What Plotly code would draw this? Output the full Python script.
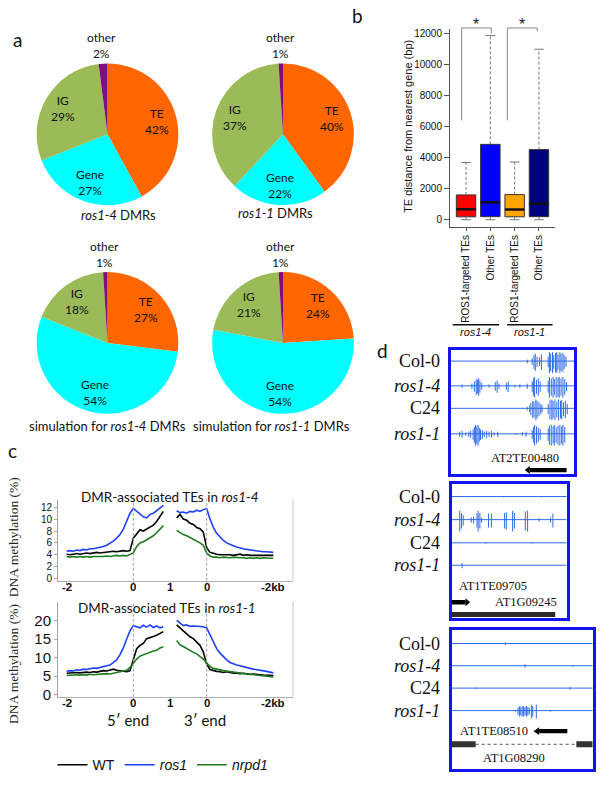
import math
import plotly.graph_objects as go

W, H = 602, 785


def fx(p):
    return p / W


def fy(p):
    return 1 - p / H


# ============================ DATA ============================
# ---- panel a : genomic distribution of DMRs (percent)
pie_labels = ["TE", "Gene", "IG", "other"]
pie_ros1_4 = [42, 27, 29, 2]
pie_ros1_1 = [40, 22, 37, 1]
pie_sim_ros1_4 = [27, 54, 18, 1]
pie_sim_ros1_1 = [24, 54, 21, 1]
pie_titles = ["<i>ros1-4</i> DMRs", "<i>ros1-1</i> DMRs",
              "simulation for <i>ros1-4</i> DMRs", "simulation for <i>ros1-1</i> DMRs"]

# ---- panel b : TE distance from nearest gene (bp)
box_labels = ["ROS1-targeted TEs", "Other TEs", "ROS1-targeted TEs", "Other TEs"]
box_q1 = [190, 200, 190, 200]
box_median = [680, 1130, 660, 1050]
box_q3 = [1600, 4860, 1620, 4520]
box_lower = [0, 0, 0, 0]
box_upper = [3690, 11870, 3720, 10990]
box_genotypes = ["ros1-4", "ros1-1"]
box_signif = ["*", "*"]
box_yticks = [0, 2000, 4000, 6000, 8000, 10000, 12000]

# ---- panel c : DNA methylation (%) around DMR-associated TEs
meth_pos_5p = [i / 10 for i in range(30)]          # -2kb .. 0 .. into TE body
meth_pos_3p = [3.3 + i / 10 for i in range(30)]    # TE body .. 0 .. -2kb
meth_tick_pos = [0, 2, 3.1, 4.2, 6.2]
meth_tick_text = ["-2", "0", "1", "0", "-2kb"]
meth_series = ["WT", "<i>ros1</i>", "<i>nrpd1</i>"]

r14_wt_5p = [4.1, 4.0, 4.1, 4.2, 4.1, 4.2, 4.3, 4.2, 4.3, 4.4, 4.3,
             4.4, 4.5, 4.5, 4.6, 4.5, 4.6, 4.7, 4.6, 4.7,
             6.8, 7.6, 8.2, 8.0, 8.3, 8.6, 9.0, 9.6, 10.4, 11.3]
r14_wt_3p = [10.2, 10.8, 10.0, 9.8, 9.3, 9.1, 8.6, 8.4, 7.8, 5.2,
             4.4, 4.2, 4.1, 4.0, 4.0, 4.1, 4.0, 3.9, 4.0, 4.1,
             3.9, 4.0, 3.9, 3.9, 3.8, 3.9, 3.8, 3.9, 3.8, 3.9]
r14_ros1_5p = [4.6, 4.7, 4.6, 4.8, 4.7, 4.9, 4.8, 5.0, 5.0, 5.1, 5.2,
               5.4, 5.6, 5.9, 6.3, 6.8, 7.4, 8.3, 9.6, 11.0,
               11.8, 11.3, 10.9, 10.4, 10.2, 10.8, 11.0, 11.4, 11.9, 12.3]
r14_ros1_3p = [11.4, 11.1, 11.2, 11.0, 11.3, 11.2, 11.5, 11.3, 11.6, 11.8,
               10.0, 8.6, 7.6, 6.9, 6.4, 6.0, 5.7, 5.5, 5.3, 5.1,
               5.0, 4.9, 4.8, 4.7, 4.7, 4.6, 4.5, 4.5, 4.4, 4.4]
r14_nrpd1_5p = [3.7, 3.6, 3.7, 3.6, 3.7, 3.6, 3.7, 3.6, 3.7, 3.7, 3.6,
                3.7, 3.8, 3.7, 3.8, 3.9, 3.8, 3.9, 3.8, 4.0,
                4.3, 5.4, 6.0, 6.2, 6.5, 6.8, 7.2, 7.7, 8.3, 8.9]
r14_nrpd1_3p = [8.1, 7.7, 7.4, 7.2, 6.9, 6.7, 6.4, 6.0, 5.6, 4.3,
                3.8, 3.6, 3.6, 3.5, 3.6, 3.5, 3.5, 3.6, 3.5, 3.5,
                3.5, 3.4, 3.5, 3.4, 3.5, 3.4, 3.5, 3.4, 3.4, 3.4]

r11_wt_5p = [5.8, 5.9, 5.8, 6.0, 5.9, 6.0, 6.1, 6.0, 6.2, 6.1, 6.3,
             6.5, 6.4, 6.7, 6.9, 6.6, 6.4, 6.3, 6.2, 6.5,
             9.5, 12.4, 13.3, 13.8, 15.1, 15.5, 15.7, 16.0, 16.4, 17.0]
r11_wt_3p = [18.8, 17.9, 17.2, 16.4, 15.6, 15.1, 14.2, 13.3, 11.5, 8.2,
             6.8, 6.5, 6.3, 6.2, 6.0, 6.2, 5.9, 5.8, 5.9, 5.7,
             5.8, 5.6, 5.5, 5.6, 5.4, 5.4, 5.3, 5.3, 5.2, 5.2]
r11_ros1_5p = [6.3, 6.5, 6.4, 6.7, 6.6, 6.9, 6.8, 7.0, 7.2, 7.1, 7.4,
               7.6, 7.8, 8.0, 8.6, 9.4, 10.8, 12.6, 15.0, 17.2,
               18.6, 18.3, 18.0, 18.7, 18.2, 18.8, 18.1, 18.5, 18.0, 18.3]
r11_ros1_3p = [20.0, 19.2, 18.6, 18.8, 18.4, 18.5, 18.4, 18.5, 18.3, 18.0,
               16.0, 14.0, 12.4, 11.2, 10.2, 9.4, 8.7, 8.3, 8.0, 7.8,
               7.5, 7.3, 7.1, 6.9, 6.8, 6.6, 6.4, 6.3, 6.1, 5.9]
r11_nrpd1_5p = [5.2, 5.3, 5.2, 5.4, 5.3, 5.4, 5.3, 5.5, 5.4, 5.5, 5.6,
                5.6, 5.7, 5.6, 5.8, 5.9, 6.0, 6.2, 6.6, 7.3,
                8.6, 9.6, 10.4, 10.8, 11.0, 11.5, 11.8, 12.0, 12.6, 12.9]
r11_nrpd1_3p = [14.6, 13.4, 13.0, 12.4, 11.9, 11.4, 11.0, 10.4, 9.6, 8.6,
                7.6, 7.1, 6.8, 6.7, 6.5, 6.4, 6.3, 6.1, 6.0, 5.9,
                5.8, 5.6, 5.5, 5.4, 5.3, 5.2, 5.1, 5.0, 4.9, 4.8]

# ---- panel d : genome browser tracks (spike position % of window, height)
d_track_names = ["Col-0", "<i>ros1-4</i>", "C24", "<i>ros1-1</i>"]
d1_pos = [
    [62, 66, 67.5, 68.5, 70, 72, 73.5, 79, 80, 81, 82.5, 83.5, 85, 86, 87, 88.5, 89.5, 91, 92, 93.5],
    [9, 17, 19, 20.5, 21.5, 22.5, 23.5, 25, 31, 36, 37.5, 39, 45, 46.5, 52, 56, 62, 66, 67, 68, 69.5,
     71, 72.5, 79, 80, 81.5, 83, 84, 85.5, 87, 88, 89.5, 91, 92.5, 94],
    [62, 64, 65, 66.5, 67.5, 69, 70, 71.5, 73, 74, 79, 80.5, 82, 83, 84.5, 86, 87.5, 89, 90, 91.5, 93, 94.5],
    [7, 9, 12, 14.5, 16, 18, 19, 20, 21, 22, 23, 24, 25.5, 27, 29, 31, 33, 35, 38, 53, 58, 61,
     66, 67, 68, 69.5, 71, 72.5, 79, 80, 81.5, 83, 84, 85.5, 87, 88.5, 90, 91, 92.5],
]
d1_amp = [
    [2, 4, 8, 10, 6, 5, 9, 6, 12, 10, 12, 8, 11, 12, 9, 12, 10, 11, 8, 6],
    [2, 3, 6, 9, 8, 10, 7, 4, 2, 5, 7, 3, 4, 6, 1.5, 2, 3, 6, 10, 12, 8,
     10, 6, 7, 12, 10, 12, 9, 12, 11, 12, 10, 12, 9, 5],
    [2, 4, 7, 10, 9, 12, 10, 8, 6, 4, 6, 11, 12, 10, 12, 9, 12, 10, 11, 8, 10, 6],
    [3, 4, 2, 3, 4, 6, 9, 12, 10, 12, 8, 6, 5, 3, 4, 3, 4, 2, 3, 1, 2, 3,
     5, 9, 12, 10, 8, 6, 7, 11, 12, 10, 12, 9, 11, 12, 10, 12, 9],
]
d2_pos = [
    [15, 45, 78],
    [7, 8.5, 10, 17, 19, 22, 23, 24.5, 26, 32, 34.5, 46, 47.5, 53, 54.5, 64, 66, 76, 86, 88],
    [30, 70],
    [9],
]
d2_amp = [
    [0.8, 0.8, 0.8],
    [12, 9, 6, 3, 4, 8, 12, 9, 3, 8, 8, 9, 10, 12, 9, 11, 12, 2, 3, 8],
    [0.8, 0.8],
    [3],
]
d3_pos = [
    [38],
    [52, 86],
    [17, 84],
    [45, 47, 48, 49, 50, 51, 52, 53, 54, 55, 56.5, 57.5, 60, 70],
]
d3_amp = [
    [1.5],
    [2, 1],
    [1, 1.5],
    [1, 4, 6, 5, 6, 6, 5, 6, 5, 4, 8, 6, 8, 1],
]
d_te_names = ["AT2TE00480", "AT1TE09705", "AT1TE08510"]
d_te_span = [(60, 94), (0, 16), (58, 82)]
d_te_strand = [-1, 1, -1]
d_gene_names = ["AT1G09245", "AT1G08290"]

# ============================ STYLE / LAYOUT GEOMETRY ============================
SANS = "Liberation Sans"
CAL = "Lato"
SERIF = "Liberation Serif"
pie_colors = ["#FF6600", "#00FFFF", "#9BBB59", "#7F0F7F"]
box_colors = ["#FF0000", "#0000FF", "#FFA500", "#000080"]
meth_colors = ["#000000", "#1F3FFF", "#1E7B1E"]
track_blue = "#2F6BEA"
frame_blue = "#1414F0"

fig = go.Figure()
ann = []
shapes = []

# ---------------------------- panel a ----------------------------
pie_sets = [pie_ros1_4, pie_ros1_1, pie_sim_ros1_4, pie_sim_ros1_1]
pie_centers = [(107.5, 134.5), (283, 134.5), (107.5, 345), (283, 345)]
pie_r = 71.5
pie_title_pos = [(118.5, 216), (275.5, 214), (107, 429), (271.5, 429)]
for vals, (cx, cy), title, (tx, ty) in zip(pie_sets, pie_centers, pie_titles, pie_title_pos):
    fig.add_trace(go.Pie(
        labels=pie_labels, values=vals, sort=False, direction="clockwise", rotation=0,
        marker=dict(colors=pie_colors, line=dict(width=0)), textinfo="none",
        hoverinfo="label+percent", showlegend=False,
        domain=dict(x=[fx(cx - pie_r), fx(cx + pie_r)], y=[fy(cy + pie_r), fy(cy - pie_r)])))
    total = sum(vals)
    cum = 0
    for lab, v in zip(pie_labels, vals):
        frac = (cum + v / 2) / total
        cum += v
        th = 2 * math.pi * frac
        k = 0.72 if v >= 5 else 1.25
        lx = cx + k * pie_r * math.sin(th)
        ly = cy - k * pie_r * math.cos(th)
        ann.append(dict(text=f"{lab}<br>{v}%", x=fx(lx), y=fy(ly), xref="paper", yref="paper",
                        showarrow=False, xanchor="center", yanchor="middle",
                        font=dict(family=CAL, size=12, color="#111")))
    ann.append(dict(text=title, x=fx(tx), y=fy(ty), xref="paper", yref="paper", showarrow=False,
                    xanchor="center", yanchor="middle", font=dict(family=CAL, size=13, color="#111")))

# ---------------------------- panel b ----------------------------
bx_rng = [0.34, 4.66]
by_rng = [-472, 12272]
b_left, b_right, b_bot, b_top = 450, 555, 228.1, 28.6


def bpx(x):
    return fx(b_left + (x - bx_rng[0]) / (bx_rng[1] - bx_rng[0]) * (b_right - b_left))


def bpy(v):
    return fy(b_bot - (v - by_rng[0]) / (by_rng[1] - by_rng[0]) * (b_bot - b_top))


for i in range(4):
    fig.add_trace(go.Box(
        x=[i + 1], q1=[box_q1[i]], median=[box_median[i]], q3=[box_q3[i]],
        lowerfence=[box_q1[i]], upperfence=[box_q3[i]], fillcolor=box_colors[i],
        line=dict(color="#333333", width=1), width=0.8, whiskerwidth=0,
        boxpoints=False, xaxis="x", yaxis="y", showlegend=False, hoverinfo="skip"))

wx, wy, cxs, cys, mx, my = [], [], [], [], [], []
for i in range(4):
    p = i + 1
    wx += [p, p, None, p, p, None]
    wy += [box_q3[i], box_upper[i], None, box_lower[i], box_q1[i], None]
    cxs += [p - 0.2, p + 0.2, None, p - 0.2, p + 0.2, None]
    cys += [box_upper[i], box_upper[i], None, box_lower[i], box_lower[i], None]
    mx += [p - 0.4, p + 0.4, None]
    my += [box_median[i], box_median[i], None]
fig.add_trace(go.Scatter(x=wx, y=wy, mode="lines", line=dict(color="#777777", width=1, dash="3px,2px"),
                         xaxis="x", yaxis="y", showlegend=False, hoverinfo="skip"))
fig.add_trace(go.Scatter(x=cxs, y=cys, mode="lines", line=dict(color="#777777", width=1),
                         xaxis="x", yaxis="y", showlegend=False, hoverinfo="skip"))
fig.add_trace(go.Scatter(x=mx, y=my, mode="lines", line=dict(color="#111111", width=2.5),
                         xaxis="x", yaxis="y", showlegend=False, hoverinfo="skip"))

# significance brackets
for (xl, xr, yr_end), star in zip([(0.82, 2.04, 11990), (2.70, 3.93, 12150)], box_signif):
    top = 12360
    for (x0, y0, x1, y1) in [(xl, 6400, xl, top), (xl, top, xr, top), (xr, top, xr, yr_end)]:
        shapes.append(dict(type="line", xref="paper", yref="paper", x0=bpx(x0), y0=bpy(y0),
                           x1=bpx(x1), y1=bpy(y1), line=dict(color="#888888", width=1)))
    ann.append(dict(text=star, x=bpx((xl + xr) / 2), y=fy(24), xref="paper", yref="paper",
                    showarrow=False, xanchor="center", yanchor="middle",
                    font=dict(family=SANS, size=16, color="#222")))

# genotype underlines & labels
for (x0, x1), g in zip([(0.45, 2.36), (2.69, 4.56)], box_genotypes):
    shapes.append(dict(type="line", xref="paper", yref="paper", x0=bpx(x0), x1=bpx(x1),
                       y0=fy(326.7), y1=fy(326.7), line=dict(color="#111", width=1.6)))
    ann.append(dict(text=f"<i>{g}</i>", x=bpx((x0 + x1) / 2), y=fy(334), xref="paper", yref="paper",
                    showarrow=False, xanchor="center", yanchor="middle",
                    font=dict(family=SANS, size=11, color="#111")))
ann.append(dict(text="TE distance from nearest gene (bp)", x=fx(408), y=fy(127), xref="paper",
                yref="paper", showarrow=False, textangle=-90, xanchor="center", yanchor="middle",
                font=dict(family=SANS, size=11, color="#111")))

# ---------------------------- panel c ----------------------------
c_sets = [
    ("x2", "y2", [(r14_wt_5p, r14_wt_3p), (r14_ros1_5p, r14_ros1_3p), (r14_nrpd1_5p, r14_nrpd1_3p)], False, 591),
    ("x3", "y3", [(r11_wt_5p, r11_wt_3p), (r11_ros1_5p, r11_ros1_3p), (r11_nrpd1_5p, r11_nrpd1_3p)], True, 708),
]
x_join = meth_pos_5p + [None] + meth_pos_3p
for xa, ya, series, leg, tick_y in c_sets:
    for (s5, s3), name, col in zip(series, meth_series, meth_colors):
        fig.add_trace(go.Scatter(x=x_join, y=list(s5) + [None] + list(s3), mode="lines", name=name,
                                 line=dict(color=col, width=1.6), xaxis=xa, yaxis=ya,
                                 showlegend=leg, hoverinfo="skip"))
    for xv in (meth_tick_pos[1], meth_tick_pos[3]):
        shapes.append(dict(type="line", xref=xa, yref=ya + " domain", x0=xv, x1=xv, y0=0, y1=1,
                           line=dict(color="#A0A0A0", width=1, dash="3px,2px")))
    shapes.append(dict(type="line", xref=xa + " domain", yref=ya + " domain", x0=1, x1=1, y0=0, y1=1,
                       line=dict(color="#C8C8C8", width=1)))
    for tv, tt in zip(meth_tick_pos, meth_tick_text):
        ann.append(dict(text=f"<b>{tt}</b>", x=tv, xref=xa, y=fy(tick_y), yref="paper",
                        showarrow=False, xanchor="center", yanchor="middle", height=12,
                        font=dict(family=SANS, size=11.5, color="#111")))

ann.append(dict(text="DMR-associated TEs in <i>ros1-4</i>", x=fx(170), y=fy(500), xref="paper",
                yref="paper", showarrow=False, xanchor="center", yanchor="middle",
                font=dict(family=CAL, size=13.5, color="#111")))
ann.append(dict(text="DMR-associated TEs in <i>ros1-1</i>", x=fx(167), y=fy(612), xref="paper",
                yref="paper", showarrow=False, xanchor="center", yanchor="middle",
                font=dict(family=CAL, size=13.5, color="#111")))
for ty in (541, 669):
    ann.append(dict(text="DNA methylation (%)", x=fx(13), y=fy(ty), xref="paper", yref="paper",
                    showarrow=False, textangle=-90, xanchor="center", yanchor="middle",
                    font=dict(family=SERIF, size=13.5, color="#222")))
for txt, xx in (("5′ end", 128), ("3′ end", 205)):
    ann.append(dict(text=txt, x=fx(xx), y=fy(725), xref="paper", yref="paper", showarrow=False,
                    xanchor="center", yanchor="middle", height=16,
                    font=dict(family=CAL, size=15, color="#111")))

# ---------------------------- panel d ----------------------------
d_boxes = [
    dict(x0=451, x1=574, y0=351.7, y1=477.7, rows=[363.3, 388.3, 411, 436.7]),
    dict(x0=451.7, x1=566.7, y0=487.3, y1=623, rows=[500, 523.3, 546.7, 569.3]),
    dict(x0=451.7, x1=592.7, y0=635, y1=775, rows=[648.3, 670.7, 693.3, 716]),
]
d_pos_all = [d1_pos, d2_pos, d3_pos]
d_amp_all = [d1_amp, d2_amp, d3_amp]
for bi, (bx, pos_l, amp_l) in enumerate(zip(d_boxes, d_pos_all, d_amp_all)):
    xa, ya = f"x{bi + 4}", f"y{bi + 4}"
    sx, sy = [], []
    for row, pos, amp in zip(bx["rows"], pos_l, amp_l):
        sx += [0, 100, None]
        sy += [row, row, None]
        for p, a in zip(pos, amp):
            sx += [p, p, None]
            sy += [row - 0.75 * a, row + a, None]
    fig.add_trace(go.Scatter(x=sx, y=sy, mode="lines", line=dict(color=track_blue, width=1),
                             xaxis=xa, yaxis=ya, showlegend=False, hoverinfo="skip"))
    for row, name in zip(bx["rows"], d_track_names):
        ann.append(dict(text=name, x=fx(442), y=fy(row), xref="paper", yref="paper", showarrow=False,
                        xanchor="right", yanchor="middle",
                        font=dict(family=SERIF, size=18, color="#111")))


def arrow(xa, ya, x0, x1, y, strand, color="#000000"):
    head = 4
    if strand < 0:
        shapes.append(dict(type="rect", xref=xa, yref=ya, x0=x0 + head, x1=x1, y0=y - 2.2, y1=y + 2.2,
                           fillcolor=color, line=dict(width=0)))
        shapes.append(dict(type="path", xref=xa, yref=ya, fillcolor=color, line=dict(width=0),
                           path=f"M {x0},{y} L {x0 + head},{y - 4} L {x0 + head},{y + 4} Z"))
    else:
        shapes.append(dict(type="rect", xref=xa, yref=ya, x0=x0, x1=x1 - head, y0=y - 2.2, y1=y + 2.2,
                           fillcolor=color, line=dict(width=0)))
        shapes.append(dict(type="path", xref=xa, yref=ya, fillcolor=color, line=dict(width=0),
                           path=f"M {x1},{y} L {x1 - head},{y - 4} L {x1 - head},{y + 4} Z"))


te_y = [473.3, 606.7, 736.7]
te_label = [(60, 460.7), (36, 590), (30, 736.7)]
for bi in range(3):
    xa, ya = f"x{bi + 4}", f"y{bi + 4}"
    x0, x1 = d_te_span[bi]
    arrow(xa, ya, x0, x1, te_y[bi], d_te_strand[bi])
    ann.append(dict(text=d_te_names[bi], x=te_label[bi][0], y=te_label[bi][1], xref=xa, yref=ya,
                    showarrow=False, xanchor="center", yanchor="middle",
                    font=dict(family=SERIF, size=12.5, color="#111")))
# gene models
shapes.append(dict(type="rect", xref="x5", yref="y5", x0=0, x1=90, y0=616.5, y1=621.5,
                   fillcolor="#2a2a2a", line=dict(width=0)))
ann.append(dict(text=d_gene_names[0], x=65, y=606, xref="x5", yref="y5", showarrow=False,
                font=dict(family=SERIF, size=12.5, color="#111")))
shapes.append(dict(type="line", xref="x6", yref="y6", x0=17, x1=88.4, y0=750, y1=750,
                   line=dict(color="#555", width=1, dash="dot")))
for x0, x1 in [(0, 17), (88.4, 100)]:
    shapes.append(dict(type="rect", xref="x6", yref="y6", x0=x0, x1=x1, y0=747, y1=753,
                       fillcolor="#333333", line=dict(width=0)))
ann.append(dict(text=d_gene_names[1], x=44, y=764, xref="x6", yref="y6", showarrow=False,
                font=dict(family=SERIF, size=12.5, color="#111")))

# panel letters
for t, (lx, ly) in zip("abcd", [(17, 39), (357, 15), (12, 454), (382, 353)]):
    ann.append(dict(text=t, x=fx(lx), y=fy(ly), xref="paper", yref="paper", showarrow=False,
                    xanchor="center", yanchor="middle", font=dict(family=CAL, size=19, color="#111")))

# ============================ AXES ============================
c_axis_common = dict(showgrid=False, zeroline=False)
layout = dict(
    width=W, height=H, margin=dict(l=0, r=0, t=0, b=0),
    paper_bgcolor="white", plot_bgcolor="white",
    font=dict(family=SANS, color="#111"),
    annotations=ann, shapes=shapes,
    legend=dict(orientation="h", x=fx(163), xanchor="center", y=fy(771), yanchor="middle",
                font=dict(family=SANS, size=14, color="#111"), bgcolor="rgba(0,0,0,0)",
                itemwidth=30, tracegroupgap=0),
    # panel b
    xaxis=dict(domain=[fx(b_left), fx(b_right)], range=bx_rng, anchor="y",
               tickmode="array", tickvals=[1, 2, 3, 4], ticktext=box_labels, tickangle=-90,
               tickfont=dict(family=SANS, size=10, color="#111"), ticks="outside", ticklen=3,
               tickcolor="#555", showline=True, linecolor="#555", linewidth=1,
               showgrid=False, zeroline=False),
    yaxis=dict(domain=[fy(b_bot), fy(b_top)], range=by_rng, anchor="x",
               tickmode="array", tickvals=box_yticks, ticktext=[str(v) for v in box_yticks],
               tickfont=dict(family=SANS, size=10, color="#111"),
               ticks="outside", ticklen=5, tickcolor="#555", showline=True, linecolor="#555",
               linewidth=1, showgrid=False, zeroline=False),
    # panel c
    xaxis2=dict(domain=[fx(58), fx(293)], range=[-0.26, 6.79], anchor="y2",
                tickmode="array", tickvals=meth_tick_pos, showticklabels=False,
                ticks="outside", ticklen=2, tickcolor="#aaa", showline=True, linecolor="#B0B0B0",
                **c_axis_common),
    yaxis2=dict(domain=[fy(585), fy(503)], range=[-0.38, 13.3], anchor="x2",
                tickmode="array", tickvals=[0, 2, 4, 6, 8, 10, 12],
                tickfont=dict(family=SANS, size=10, color="#111"), ticks="outside", ticklen=3,
                tickcolor="#aaa", showline=True, linecolor="#A0A0A0", **c_axis_common),
    xaxis3=dict(domain=[fx(58), fx(293)], range=[-0.26, 6.79], anchor="y3",
                tickmode="array", tickvals=meth_tick_pos, showticklabels=False,
                ticks="outside", ticklen=2, tickcolor="#aaa", showline=True, linecolor="#B0B0B0",
                **c_axis_common),
    yaxis3=dict(domain=[fy(702), fy(606)], range=[-0.53, 25.07], anchor="x3",
                tickmode="array", tickvals=[0, 5, 10, 15, 20],
                tickfont=dict(family=SANS, size=15, color="#111"), ticks="outside", ticklen=3,
                tickcolor="#aaa", showline=True, linecolor="#A0A0A0", **c_axis_common),
)
for bi, bx in enumerate(d_boxes):
    n = bi + 4
    layout[f"xaxis{n}"] = dict(domain=[fx(bx["x0"]), fx(bx["x1"])], range=[0, 100], anchor=f"y{n}",
                               showline=True, mirror=True, linecolor=frame_blue, linewidth=3,
                               showticklabels=False, ticks="", showgrid=False, zeroline=False)
    layout[f"yaxis{n}"] = dict(domain=[fy(bx["y1"]), fy(bx["y0"])], range=[bx["y1"], bx["y0"]],
                               anchor=f"x{n}", showline=True, mirror=True, linecolor=frame_blue,
                               linewidth=3, showticklabels=False, ticks="", showgrid=False,
                               zeroline=False)

fig.update_layout(**layout)
fig.write_html("out.html", config={"displayModeBar": False},
               post_script="document.body.style.margin='0';document.body.style.overflow='hidden';")
